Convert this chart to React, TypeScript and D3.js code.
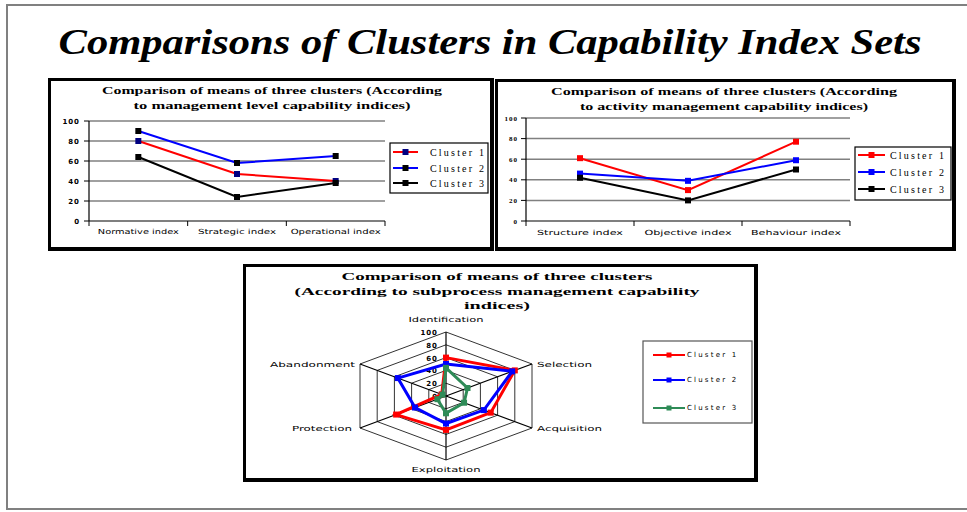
import React from "react";
import * as d3 from "d3";

// ---------- DATA ----------
const pageTitle = "Comparisons of Clusters in Capability Index Sets";
const seriesNames = ["Cluster 1", "Cluster 2", "Cluster 3"];
const yTicks = [0, 20, 40, 60, 80, 100];

const mgmtTitle = ["Comparison of means of three clusters (According", "to management level capability indices)"];
const mgmtCategories = ["Normative index", "Strategic index", "Operational index"];
const mgmtCluster1 = [80, 47, 40];
const mgmtCluster2 = [90, 58, 65];
const mgmtCluster3 = [64, 24, 38];

const actTitle = ["Comparison of means of three clusters  (According", "to activity management capability indices)"];
const actCategories = ["Structure index", "Objective index", "Behaviour index"];
const actCluster1 = [61, 30, 77];
const actCluster2 = [46, 39, 59];
const actCluster3 = [42, 20, 50];

const subTitle = ["Comparison of means of three clusters", "(According to subprocess management capability", "indices)"];
const subAxes = ["Identification", "Selection", "Acquisition", "Exploitation", "Protection", "Abandonment"];
const subCluster1 = [60, 80, 52, 53, 58, 5];
const subCluster2 = [50, 77, 44, 43, 36, 56];
const subCluster3 = [44, 25, 21, 27, 10, 4];

// ---------- helpers ----------
const serif = "'Liberation Serif', 'DejaVu Serif', serif";
const sans = "'DejaVu Sans', 'Liberation Sans', sans-serif";

function Panel({ x, y, w, h }: { x: number; y: number; w: number; h: number }) {
  return (
    <g>
      <rect x={x} y={y} width={w} height={h} fill="#000" />
      <rect x={x + 3} y={y + 3} width={w - 7} height={h - 7} fill="#fff" />
    </g>
  );
}

type LineSpec = { values: number[]; line: string; marker: string };

function LineChart(props: {
  categories: string[];
  series: LineSpec[];
  x0: number; x1: number; yTop: number; yBot: number;
  tickRight: number; tickFont: string; tickSize: number; tickWeight: string;
  labelY: number; labelWidths: number[];
}) {
  const { categories, series, x0, x1, yTop, yBot } = props;
  const band = d3.scaleBand<string>().domain(categories).range([x0, x1]);
  const y = d3.scaleLinear().domain([0, 100]).range([yBot, yTop]);
  const cx = (c: string) => (band(c) as number) + band.bandwidth() / 2;
  const line = d3.line<number>().x((_, i) => cx(categories[i])).y((v) => y(v));
  const bounds = [x0, ...categories.map((c) => (band(c) as number) + band.bandwidth())];
  return (
    <g>
      {yTicks.filter((t) => t > 0).map((t) => (
        <line key={t} x1={x0} x2={x1} y1={y(t)} y2={y(t)} stroke="#808080" strokeWidth={1.5} />
      ))}
      <line x1={x0} x2={x0} y1={yTop} y2={yBot} stroke="#000" strokeWidth={1.2} />
      <line x1={x0} x2={x1} y1={yBot} y2={yBot} stroke="#000" strokeWidth={1.2} />
      {yTicks.map((t) => (
        <g key={t}>
          <line x1={x0 - 5} x2={x0} y1={y(t)} y2={y(t)} stroke="#000" />
          <text x={props.tickRight} y={y(t) + 2.5} textAnchor="end" fontFamily={props.tickFont}
            fontSize={props.tickSize} fontWeight={props.tickWeight} letterSpacing={1}>{t}</text>
        </g>
      ))}
      {bounds.map((b, i) => (
        <line key={i} x1={b} x2={b} y1={yBot} y2={yBot + 5} stroke="#000" />
      ))}
      {categories.map((c, i) => (
        <text key={c} x={cx(c)} y={props.labelY} textAnchor="middle" fontFamily={sans} fontSize={7}
          textLength={props.labelWidths[i]} lengthAdjust="spacingAndGlyphs">{c}</text>
      ))}
      {series.map((s, si) => (
        <g key={si}>
          <path d={line(s.values) as string} fill="none" stroke={s.line} strokeWidth={2} />
          {s.values.map((v, i) => (
            <rect key={i} x={cx(categories[i]) - 3} y={y(v) - 3} width={6} height={6} fill={s.marker} />
          ))}
        </g>
      ))}
    </g>
  );
}

function Legend(props: { x: number; y: number; w: number; h: number; rows: number[]; series: LineSpec[];
  lx0: number; lx1: number; tx: number; font: string; size: number; spacing: number; lw: number; ms: number; stroke: string }) {
  const { x, y, w, h, rows, series } = props;
  return (
    <g>
      <rect x={x} y={y} width={w} height={h} fill="#fff" stroke={props.stroke} strokeWidth={1.2} />
      {series.map((s, i) => (
        <g key={i}>
          <line x1={props.lx0} x2={props.lx1} y1={rows[i]} y2={rows[i]} stroke={s.line} strokeWidth={props.lw} />
          <rect x={(props.lx0 + props.lx1) / 2 - props.ms / 2} y={rows[i] - props.ms / 2} width={props.ms} height={props.ms} fill={s.marker} />
          <text x={props.tx} y={rows[i] + props.size * 0.35} fontFamily={props.font} fontSize={props.size}
            letterSpacing={props.spacing}>{seriesNames[i]}</text>
        </g>
      ))}
    </g>
  );
}

function Radar() {
  const cx = 446, cy = 396, R = 64, sx = 86 / (R * Math.sin(Math.PI / 3));
  const r = d3.scaleLinear().domain([0, 100]).range([0, R]);
  const ang = (i: number) => (i * 2 * Math.PI) / subAxes.length;
  const pt = (v: number, i: number): [number, number] => [cx + sx * r(v) * Math.sin(ang(i)), cy - r(v) * Math.cos(ang(i))];
  const ring = (v: number) => (d3.line()(subAxes.map((_, i) => pt(v, i))) as string) + "Z";
  const series = [
    { values: subCluster1, color: "#ff0000" },
    { values: subCluster2, color: "#0000ff" },
    { values: subCluster3, color: "#2e8b57" },
  ];
  const labelPos = [
    { dx: 0, dy: -10, anchor: "middle", w: 75 },
    { dx: 5, dy: 3, anchor: "start", w: 55 },
    { dx: 5, dy: 3, anchor: "start", w: 65 },
    { dx: 0, dy: 12, anchor: "middle", w: 69 },
    { dx: -8, dy: 3, anchor: "end", w: 60 },
    { dx: -5, dy: 3, anchor: "end", w: 85 },
  ];
  return (
    <g>
      {yTicks.filter((t) => t > 0).map((t) => (
        <path key={t} d={ring(t)} fill="none" stroke="#333" strokeWidth={1} />
      ))}
      {subAxes.map((a, i) => {
        const [x, y] = pt(100, i);
        return <line key={a} x1={cx} y1={cy} x2={x} y2={y} stroke="#000" strokeWidth={1.2} />;
      })}
      {yTicks.map((t) => (
        <text key={t} x={cx - 8} y={cy - r(t) + 3} textAnchor="end" fontFamily={sans} fontSize={7}
          fontWeight="bold" letterSpacing={1}>{t}</text>
      ))}
      {subAxes.map((a, i) => {
        const [x, y] = pt(100, i);
        const p = labelPos[i];
        return (
          <text key={a} x={x + p.dx} y={y + p.dy} textAnchor={p.anchor as any} fontFamily={sans} fontSize={7}
            textLength={p.w} lengthAdjust="spacingAndGlyphs">{a}</text>
        );
      })}
      {series.map((s, si) => (
        <g key={si}>
          <path d={(d3.line()(s.values.map((v, i) => pt(v, i))) as string) + "Z"} fill="none" stroke={s.color}
            strokeWidth={3} strokeLinejoin="miter" />
          {s.values.map((v, i) => {
            const [x, y] = pt(v, i);
            return <rect key={i} x={x - 3} y={y - 3} width={6} height={6} fill={s.color} />;
          })}
        </g>
      ))}
    </g>
  );
}

function TitleLines({ lines, cx, y0, dy, widths, size }: { lines: string[]; cx: number; y0: number; dy: number; widths: number[]; size: number }) {
  return (
    <g>
      {lines.map((l, i) => (
        <text key={i} x={cx} y={y0 + i * dy} textAnchor="middle" fontFamily={serif} fontWeight="bold" fontSize={size}
          textLength={widths[i]} lengthAdjust="spacingAndGlyphs">{l}</text>
      ))}
    </g>
  );
}

export default function App() {
  const mgmtSeries: LineSpec[] = [
    { values: mgmtCluster1, line: "#ff0000", marker: "#000080" },
    { values: mgmtCluster2, line: "#0000ff", marker: "#000000" },
    { values: mgmtCluster3, line: "#000000", marker: "#000000" },
  ];
  const actSeries: LineSpec[] = [
    { values: actCluster1, line: "#ff0000", marker: "#ff0000" },
    { values: actCluster2, line: "#0000ff", marker: "#0000ff" },
    { values: actCluster3, line: "#000000", marker: "#000000" },
  ];
  const subSeries: LineSpec[] = [
    { values: subCluster1, line: "#ff0000", marker: "#ff0000" },
    { values: subCluster2, line: "#0000ff", marker: "#0000ff" },
    { values: subCluster3, line: "#2e8b57", marker: "#2e8b57" },
  ];
  return (
    <svg width={967} height={512} style={{ position: "absolute", left: 0, top: 0, background: "#fff" }}>
      <rect x={0} y={0} width={967} height={512} fill="#fff" />
      {/* page frame */}
      <line x1={6} x2={967} y1={5} y2={5} stroke="#808080" strokeWidth={2} />
      <line x1={7} x2={7} y1={4} y2={510} stroke="#808080" strokeWidth={2} />
      <line x1={6} x2={967} y1={509} y2={509} stroke="#808080" strokeWidth={2} />

      <text x={490} y={54} textAnchor="middle" fontFamily={serif} fontWeight="bold" fontStyle="italic" fontSize={35}
        textLength={863} lengthAdjust="spacingAndGlyphs">{pageTitle}</text>

      {/* Panel 1 */}
      <Panel x={48} y={78} w={446} h={173} />
      <TitleLines lines={mgmtTitle} cx={272} y0={94} dy={15} widths={[340, 277]} size={9.5} />
      <LineChart categories={mgmtCategories} series={mgmtSeries} x0={89} x1={385} yTop={121} yBot={221}
        tickRight={80} tickFont={sans} tickSize={7} tickWeight="bold" labelY={234} labelWidths={[81, 78, 90]} />
      <Legend x={390} y={143} w={98} h={50} rows={[152, 168, 183]} series={mgmtSeries} lx0={393} lx1={418} tx={430}
        font={serif} size={10} spacing={2.2} lw={2} ms={6} stroke="#000" />

      {/* Panel 2 */}
      <Panel x={495} y={79} w={461} h={172} />
      <TitleLines lines={actTitle} cx={724} y0={95} dy={15} widths={[346, 288]} size={9.5} />
      <LineChart categories={actCategories} series={actSeries} x0={526} x1={850} yTop={118} yBot={221}
        tickRight={518} tickFont={serif} tickSize={7} tickWeight="bold" labelY={235} labelWidths={[86, 87, 90]} />
      <Legend x={855} y={147} w={96} h={53} rows={[155, 172, 189]} series={actSeries} lx0={858} lx1={885} tx={890}
        font={serif} size={10} spacing={2.2} lw={2} ms={6} stroke="#000" />

      {/* Panel 3 */}
      <Panel x={243} y={264} w={515} h={218} />
      <TitleLines lines={subTitle} cx={497} y0={280} dy={14.5} widths={[311, 405, 66]} size={9.5} />
      <Radar />
      <Legend x={643} y={341} w={109} h={82} rows={[355, 380, 408]} series={subSeries} lx0={653} lx1={685} tx={687}
        font={sans} size={7} spacing={2.2} lw={2} ms={5} stroke="#555" />
    </svg>
  );
}
